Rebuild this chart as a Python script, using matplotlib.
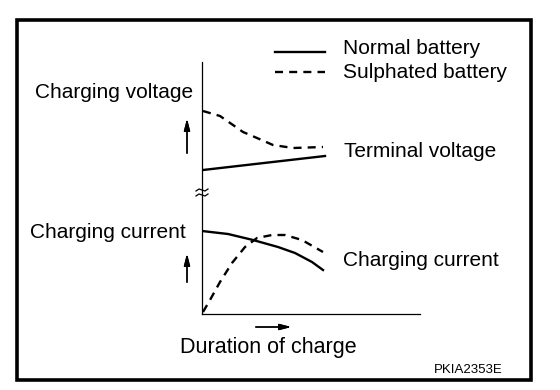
import matplotlib
matplotlib.use('Agg')
from matplotlib import pyplot as plt
from matplotlib.patches import Rectangle
from matplotlib.lines import Line2D

plt.rcParams['font.family'] = ['Liberation Sans', 'DejaVu Sans']

W, H = 560, 390

# curves (x = duration, y = level above the axis origin)
volt_sulph_t = [1, 18, 31, 41, 55, 71, 91, 121]
volt_sulph_v = [203, 198, 189, 182, 176, 169, 166, 167]
volt_norm_t = [1, 123]
volt_norm_v = [144, 158]

curr_norm_t = [0, 26, 51, 76, 93, 110, 121]
curr_norm_i = [83, 80, 74, 67, 61, 52, 44]
curr_sulph_t = [1, 8, 18, 30, 43, 55, 70, 83, 100, 121]
curr_sulph_i = [2, 14, 32, 51, 67, 76, 79, 79, 74, 62]

legend_labels = ['Normal battery', 'Sulphated battery']
dash = (3.4, 2.6)


def fx(px):
    return px / W


def fy(py):
    return 1 - py / H


fig = plt.figure(figsize=(W / 100, H / 100), dpi=100)
fig.patch.set_facecolor('white')

# outer frame
fig.patches.append(Rectangle((fx(17), fy(380)), fx(531) - fx(17), fy(20) - fy(380),
                             transform=fig.transFigure, fill=False, lw=2.6, ec='black'))

ax = fig.add_axes([fx(202), fy(314), 218 / W, 252 / H])
ax.set_xlim(0, 218)
ax.set_ylim(0, 252)
for s in ['top', 'right']:
    ax.spines[s].set_visible(False)
for s in ['left', 'bottom']:
    ax.spines[s].set_linewidth(0.9)
ax.set_xticks([])
ax.set_yticks([])
ax.patch.set_alpha(0)

ax.plot(volt_sulph_t, volt_sulph_v, color='black', lw=1.7, dashes=dash)
ax.plot(volt_norm_t, volt_norm_v, color='black', lw=1.7)
ax.plot(curr_norm_t, curr_norm_i, color='black', lw=1.7)
ax.plot(curr_sulph_t, curr_sulph_i, color='black', lw=1.7, dashes=dash)

# axis break mark
for yb in [124, 119]:
    ax.plot([-6, -3, 0, 3, 6], [yb - 1, yb + 1, yb, yb - 1, yb + 1], color='black',
            lw=0.9, clip_on=False)

# legend
fig.lines.append(Line2D([fx(275), fx(325)], [fy(52), fy(52)], transform=fig.transFigure,
                        color='black', lw=1.7))
fig.lines.append(Line2D([fx(275), fx(325)], [fy(72), fy(72)], transform=fig.transFigure,
                        color='black', lw=1.7, dashes=dash))
fs = 15
fig.text(fx(343), fy(48), legend_labels[0], fontsize=fs, va='center')
fig.text(fx(343), fy(72), legend_labels[1], fontsize=fs, va='center')

fig.text(fx(193), fy(92), 'Charging voltage', fontsize=fs, va='center', ha='right')
fig.text(fx(186), fy(232), 'Charging current', fontsize=fs, va='center', ha='right')
fig.text(fx(344), fy(152), 'Terminal voltage', fontsize=fs, va='center')
fig.text(fx(343), fy(260), 'Charging current', fontsize=fs, va='center')
fig.text(fx(180), fy(347), 'Duration of charge', fontsize=15.5, va='center')
fig.text(fx(503), fy(370), 'PKIA2353E', fontsize=9.5, va='center', ha='right')

# direction arrows
arrow = dict(arrowstyle='-|>,head_length=0.7,head_width=0.18', color='black', lw=1.0)
fig.add_artist(plt.annotate('', xy=(fx(187), fy(116)), xytext=(fx(187), fy(156)),
                            xycoords='figure fraction', arrowprops=arrow))
fig.add_artist(plt.annotate('', xy=(fx(187), fy(251)), xytext=(fx(187), fy(285)),
                            xycoords='figure fraction', arrowprops=arrow))
fig.add_artist(plt.annotate('', xy=(fx(294), fy(327)), xytext=(fx(253), fy(327)),
                            xycoords='figure fraction', arrowprops=arrow))

plt.savefig('out.png', dpi=100)
